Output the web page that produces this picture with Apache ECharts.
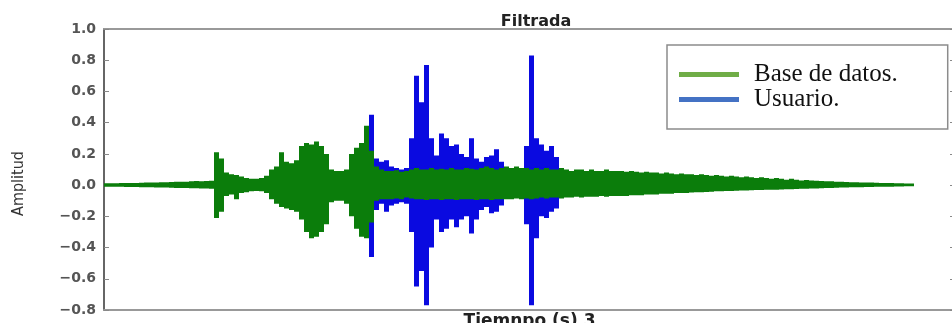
<!DOCTYPE html>
<html>
<head>
<meta charset="utf-8">
<script src="https://cdn.jsdelivr.net/npm/echarts@6/dist/echarts.min.js"></script>
<style>
  html, body { margin: 0; padding: 0; background: #fff; }
  #chart { width: 952px; height: 323px; }
</style>
</head>
<body>
<div id="chart"></div>
<script>
// each index is one 5px-wide slice of the waveform (x axis hidden)
let yTicks = [-0.8, -0.6, -0.4, -0.2, 0.0, 0.2, 0.4, 0.6, 0.8, 1.0];

// Base de datos (green) envelope, index 0..161
let greenTop = [
  0.012, 0.012, 0.012, 0.013, 0.013, 0.014, 0.014, 0.015, 0.016, 0.016,
  0.017, 0.018, 0.018, 0.020, 0.021, 0.022, 0.022, 0.024, 0.026, 0.025, 0.027, 0.028,
  0.21, 0.17, 0.08, 0.07, 0.065, 0.055, 0.045, 0.04, 0.04, 0.045, 0.06,
  0.10, 0.12, 0.21, 0.15, 0.14, 0.16, 0.25, 0.27, 0.26, 0.28, 0.25, 0.20,
  0.10, 0.09, 0.09, 0.10, 0.20, 0.24, 0.27, 0.38, 0.22,
  0.12, 0.10, 0.09, 0.09, 0.095, 0.085, 0.09, 0.10, 0.11, 0.10,
  0.10, 0.11, 0.10, 0.105, 0.10, 0.11, 0.10, 0.10, 0.11, 0.105,
  0.10, 0.11, 0.12, 0.11, 0.10, 0.11,
  0.12, 0.11, 0.12, 0.11, 0.11, 0.10, 0.11, 0.10, 0.11, 0.10, 0.10, 0.11,
  0.10, 0.09, 0.10, 0.10, 0.09, 0.10, 0.09, 0.09, 0.10, 0.09, 0.09, 0.09,
  0.085, 0.09, 0.085, 0.08, 0.085, 0.08, 0.08, 0.075, 0.08, 0.075, 0.07, 0.075,
  0.07, 0.07, 0.065, 0.07, 0.065, 0.06, 0.065, 0.06, 0.055, 0.06, 0.055, 0.05,
  0.055, 0.05, 0.045, 0.05, 0.045, 0.04, 0.045, 0.04, 0.035, 0.04, 0.035, 0.03,
  0.032, 0.03, 0.028, 0.027, 0.025, 0.024, 0.022, 0.021, 0.02, 0.019, 0.018, 0.017,
  0.016, 0.016, 0.015, 0.014, 0.013, 0.013, 0.012, 0.012, 0.011, 0.01
];
let greenBottom = [
  -0.010, -0.010, -0.011, -0.011, -0.012, -0.012, -0.012, -0.013, -0.014, -0.014,
  -0.015, -0.015, -0.016, -0.017, -0.018, -0.018, -0.019, -0.020, -0.020, -0.021, -0.022, -0.024,
  -0.21, -0.17, -0.07, -0.06, -0.09, -0.05, -0.045, -0.04, -0.038, -0.04, -0.05,
  -0.09, -0.12, -0.14, -0.15, -0.16, -0.17, -0.22, -0.30, -0.34, -0.33, -0.30, -0.25,
  -0.11, -0.10, -0.10, -0.12, -0.20, -0.28, -0.33, -0.34, -0.24,
  -0.10, -0.09, -0.09, -0.09, -0.085, -0.09, -0.08, -0.085, -0.09, -0.09,
  -0.095, -0.09, -0.09, -0.095, -0.09, -0.09, -0.095, -0.09, -0.09, -0.09,
  -0.095, -0.09, -0.09, -0.095, -0.09, -0.09,
  -0.09, -0.09, -0.085, -0.09, -0.085, -0.09, -0.085, -0.08, -0.085, -0.08, -0.08, -0.085,
  -0.08, -0.08, -0.075, -0.08, -0.075, -0.075, -0.075, -0.07, -0.075, -0.07, -0.07, -0.07,
  -0.07, -0.065, -0.065, -0.065, -0.06, -0.06, -0.06, -0.055, -0.055, -0.055, -0.05, -0.05,
  -0.05, -0.048, -0.046, -0.045, -0.044, -0.042, -0.04, -0.04, -0.038, -0.037, -0.036, -0.035,
  -0.034, -0.033, -0.032, -0.031, -0.03, -0.03, -0.029, -0.028, -0.027, -0.026, -0.025, -0.024,
  -0.023, -0.022, -0.021, -0.02, -0.019, -0.018, -0.017, -0.016, -0.015, -0.014, -0.014, -0.013,
  -0.012, -0.012, -0.011, -0.011, -0.010, -0.010, -0.009, -0.009, -0.008, -0.008
];

// Usuario (blue) envelope, starts at slice 53
let blueStart = 53;
let blueTop = [
  0.45, 0.17, 0.15, 0.16, 0.12, 0.11, 0.10, 0.11,
  0.30, 0.70, 0.53, 0.77, 0.30, 0.19, 0.33, 0.30, 0.25, 0.26, 0.20, 0.18, 0.30, 0.17, 0.15, 0.18, 0.19, 0.23, 0.15,
  0.05, 0.05, 0.05, 0.05,
  0.25, 0.83, 0.30, 0.26, 0.22, 0.25, 0.18, 0.05
];
let blueBottom = [
  -0.46, -0.16, -0.12, -0.17, -0.13, -0.12, -0.11, -0.12,
  -0.30, -0.65, -0.55, -0.77, -0.40, -0.22, -0.30, -0.28, -0.22, -0.27, -0.22, -0.20, -0.31, -0.22, -0.16, -0.14, -0.18, -0.17, -0.13,
  -0.05, -0.05, -0.05, -0.05,
  -0.25, -0.77, -0.34, -0.20, -0.21, -0.17, -0.15, -0.05
];

// [slice, bottom, top]
let greenData = greenTop.map((v, i) => [i, greenBottom[i], v]);
let blueData = blueTop.map((v, i) => [blueStart + i, blueBottom[i], v]);

// one stepped polygon per series: top edge left->right, bottom edge back
function renderBand(params, api) {
  if (params.dataIndexInside !== 0) return null;
  let n = params.dataInsideLength;
  let pts = [];
  for (let k = 0; k < n; k++) {
    let x = api.value(0, k), t = api.value(2, k);
    pts.push(api.coord([x, t]), api.coord([x + 1, t]));
  }
  for (let k = n - 1; k >= 0; k--) {
    let x = api.value(0, k), b = api.value(1, k);
    pts.push(api.coord([x + 1, b]), api.coord([x, b]));
  }
  return {
    type: 'polygon',
    shape: { points: pts },
    style: { fill: api.visual('color'), lineWidth: 0 }
  };
}

function fmt(v) {
  let s = Math.abs(v).toFixed(1);
  return v < 0 ? '\u2212' + s : s;
}

let myChart = echarts.init(document.getElementById('chart'));
let option = {
  animation: false,
  title: {
    text: 'Filtrada',
    left: 531,
    top: 9,
    textAlign: 'center',
    textStyle: { fontFamily: 'DejaVu Sans', fontSize: 16, fontWeight: 'bold', color: '#222' }
  },
  legend: {
    orient: 'vertical',
    left: 667,
    top: 45,
    padding: [17, 50, 17, 12],
    itemGap: 0,
    itemWidth: 60,
    itemHeight: 5,
    icon: 'rect',
    borderColor: '#8c8c8c',
    borderWidth: 1.5,
    backgroundColor: '#fff',
    textStyle: { fontFamily: 'Liberation Serif', fontSize: 25, lineHeight: 23, color: '#111', padding: [0, 0, 0, 10] },
    data: [
      { name: 'Base de datos.', itemStyle: { color: '#70ad47' } },
      { name: 'Usuario.', itemStyle: { color: '#4472c4' } }
    ]
  },
  grid: { left: 104, top: 29, width: 851, height: 281, outerBoundsMode: 'none', containLabel: false },
  xAxis: [
    {
      type: 'value', min: 0, max: 170.2,
      name: 'Tiemnpo (s) 3', nameLocation: 'middle', nameGap: 3,
      nameTextStyle: { fontFamily: 'DejaVu Sans', fontSize: 17, fontWeight: 'bold', color: '#222' },
      axisLine: { onZero: false, lineStyle: { color: '#999', width: 2 } },
      axisTick: { show: false }, axisLabel: { show: false }, splitLine: { show: false }
    },
    {
      type: 'value', min: 0, max: 170.2, position: 'top',
      axisLine: { onZero: false, lineStyle: { color: '#999', width: 2 } },
      axisTick: { show: false }, axisLabel: { show: false }, splitLine: { show: false }
    }
  ],
  yAxis: [
    {
      type: 'value', min: -0.8, max: 1.0, interval: 0.2,
      name: 'Amplitud', nameLocation: 'middle', nameGap: 77, nameRotate: 90,
      nameTextStyle: { fontFamily: 'DejaVu Sans Condensed', fontSize: 16, color: '#333', padding: [0, 28, 0, 0] },
      axisLine: { show: true, onZero: false, lineStyle: { color: '#666', width: 2 } },
      axisTick: { inside: true, length: 5, lineStyle: { color: '#888' } },
      axisLabel: {
        margin: 8, fontFamily: 'DejaVu Sans', fontSize: 14, fontWeight: 'bold', color: '#555',
        formatter: fmt
      },
      splitLine: { show: false }
    },
    {
      type: 'value', min: -0.8, max: 1.0, interval: 0.2, position: 'right',
      axisLine: { show: true, onZero: false, lineStyle: { color: '#999', width: 2 } },
      axisTick: { inside: true, length: 5, lineStyle: { color: '#888' } },
      axisLabel: { show: false }, splitLine: { show: false }
    }
  ],
  series: [
    {
      name: 'Usuario.',
      type: 'custom',
      renderItem: renderBand,
      itemStyle: { color: '#0a0ae0' },
      encode: { x: 0, y: [1, 2] },
      data: blueData,
      z: 2
    },
    {
      name: 'Base de datos.',
      type: 'custom',
      renderItem: renderBand,
      itemStyle: { color: '#0b7d0b' },
      encode: { x: 0, y: [1, 2] },
      data: greenData,
      z: 3
    }
  ]
};
myChart.setOption(option);
</script>
</body>
</html>
